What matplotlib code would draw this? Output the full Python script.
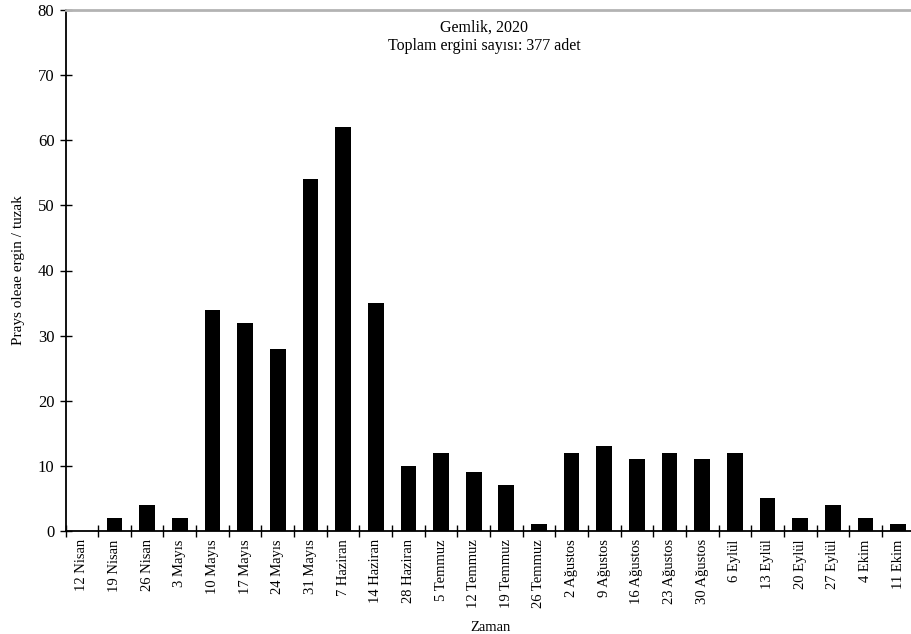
import matplotlib
matplotlib.use("Agg")
import matplotlib.pyplot as plt
import numpy as np

plt.rcParams['font.family'] = ['Liberation Serif', 'DejaVu Serif']

dates = ["12 Nisan", "19 Nisan", "26 Nisan", "3 Mayıs", "10 Mayıs", "17 Mayıs",
         "24 Mayıs", "31 Mayıs", "7 Haziran", "14 Haziran", "28 Haziran",
         "5 Temmuz", "12 Temmuz", "19 Temmuz", "26 Temmuz", "2 Ağustos",
         "9 Ağustos", "16 Ağustos", "23 Ağustos", "30 Ağustos", "6 Eylül",
         "13 Eylül", "20 Eylül", "27 Eylül", "4 Ekim", "11 Ekim"]
counts = [0, 2, 4, 2, 34, 32, 28, 54, 62, 35, 10, 12, 9, 7, 1, 12, 13, 11,
          12, 11, 12, 5, 2, 4, 2, 1]
y_ticks = [0, 10, 20, 30, 40, 50, 60, 70, 80]

fig = plt.figure(figsize=(9.12, 6.34), dpi=100)
ax = fig.add_axes([65.5 / 912, 103 / 634, 849 / 912, 521 / 634])

x = np.arange(len(dates))
ax.bar(x, counts, width=0.48, color='black')

ax.set_xlim(-0.5, len(dates) - 0.5)
ax.set_ylim(0, 80)
ax.set_yticks(y_ticks)
ax.set_xticks(x)
ax.set_xticklabels(dates, rotation=90, fontsize=10.5)
ax.set_xticks(np.arange(-0.5, len(dates), 1.0), minor=True)
ax.tick_params(axis='x', which='major', length=0, pad=6)
ax.tick_params(axis='x', which='minor', direction='inout', length=8, width=1)
ax.tick_params(axis='y', direction='inout', length=8, width=1, labelsize=12, pad=4)

ax.spines['right'].set_visible(False)
ax.spines['top'].set_color('#b3b3b3')
ax.spines['top'].set_linewidth(2)
ax.spines['left'].set_linewidth(1.3)
ax.spines['bottom'].set_linewidth(1.3)

ax.set_xlabel("Zaman", fontsize=10.5, labelpad=9)
ax.set_ylabel("Prays oleae ergin / tuzak", fontsize=11, labelpad=9)

ax.text(0.493, 0.982, "Gemlik, 2020\nToplam ergini sayısı: 377 adet",
        transform=ax.transAxes, ha='center', va='top', fontsize=11.5,
        linespacing=1.2)

fig.savefig("out.png", dpi=100)
